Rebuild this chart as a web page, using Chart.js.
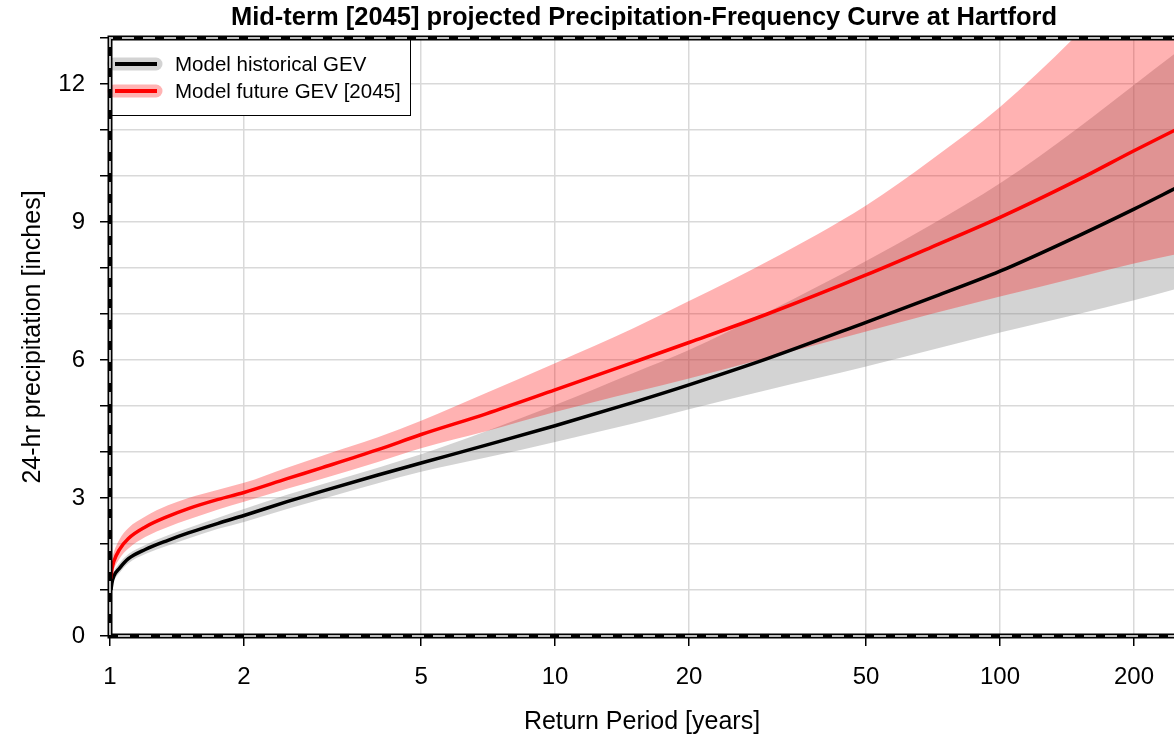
<!DOCTYPE html>
<html>
<head>
<meta charset="utf-8">
<title>Precipitation-Frequency Curve at Hartford</title>
<script src="https://cdn.jsdelivr.net/npm/chart.js@4.4.1/dist/chart.umd.min.js"></script>
<style>
  html, body { margin: 0; padding: 0; background: #fff; overflow: hidden; }
  canvas { display: block; }
</style>
</head>
<body>
<canvas id="chart" width="1174" height="742"></canvas>
<script>
// Return periods [years] along the curves
const returnPeriods = [1.005, 1.01, 1.02, 1.05, 1.1, 1.2, 1.35, 1.5, 1.75, 2, 2.5, 3, 4, 5, 7, 10, 15, 20, 30, 50, 70, 100, 150, 200, 250];

// Model historical GEV (black) with its band
const histGev   = [1.00, 1.15, 1.30, 1.47, 1.68, 1.88, 2.08, 2.24, 2.45, 2.62, 2.92, 3.15, 3.50, 3.76, 4.15, 4.57, 5.08, 5.46, 6.03, 6.82, 7.35, 7.93, 8.70, 9.28, 9.75];
const histUpper = [1.10, 1.25, 1.40, 1.58, 1.78, 1.98, 2.19, 2.35, 2.57, 2.76, 3.07, 3.30, 3.66, 3.95, 4.45, 5.02, 5.72, 6.22, 7.04, 8.15, 8.94, 9.84, 11.05, 11.98, 12.70];
const histLower = [0.95, 1.07, 1.20, 1.37, 1.58, 1.78, 1.97, 2.12, 2.33, 2.48, 2.76, 2.98, 3.32, 3.57, 3.88, 4.22, 4.62, 4.93, 5.35, 5.86, 6.22, 6.60, 7.00, 7.30, 7.55];

// Model future GEV [2045] (red) with its band
const futGev   = [1.25, 1.45, 1.62, 1.88, 2.12, 2.37, 2.60, 2.77, 2.97, 3.12, 3.42, 3.66, 4.05, 4.38, 4.83, 5.35, 5.95, 6.38, 7.00, 7.85, 8.45, 9.10, 9.92, 10.55, 11.02];
const futUpper = [1.45, 1.65, 1.82, 2.10, 2.35, 2.60, 2.84, 3.00, 3.18, 3.33, 3.66, 3.92, 4.32, 4.68, 5.28, 5.93, 6.69, 7.28, 8.14, 9.36, 10.35, 11.50, 13.10, 14.40, 15.40];
const futLower = [1.08, 1.27, 1.44, 1.68, 1.90, 2.15, 2.37, 2.53, 2.75, 2.92, 3.20, 3.42, 3.78, 4.08, 4.45, 4.87, 5.30, 5.60, 6.05, 6.62, 7.00, 7.38, 7.80, 8.10, 8.30];

// Axis ticks
const xTicks = [1, 2, 5, 10, 20, 50, 100, 200];
const yLabelEvery = 3;

const TITLE = 'Mid-term [2045] projected Precipitation-Frequency Curve at Hartford';

const FONT = '"Liberation Sans", Arial, sans-serif';
Chart.defaults.color = '#000';
Chart.defaults.font.family = FONT;

const pts = arr => returnPeriods.map((t, i) => ({ x: t, y: arr[i] }));

const GRAY_BAND = 'rgba(128,128,128,0.35)';
const RED_BAND = 'rgba(255,0,0,0.3)';

// title centred over the plot region (as R does), not the whole canvas
const titlePlugin = {
  id: 'plotTitle',
  afterDraw(chart) {
    const { ctx, chartArea: a } = chart;
    ctx.save();
    ctx.font = 'bold 25.5px ' + FONT;
    ctx.fillStyle = '#000';
    ctx.textAlign = 'center';
    ctx.textBaseline = 'middle';
    ctx.fillText(TITLE, (a.left + a.right) / 2 + 2, 18);
    ctx.restore();
  }
};

// dashed R-style frame on left, top and bottom
const framePlugin = {
  id: 'frame',
  afterDraw(chart) {
    const { ctx, chartArea: a } = chart;
    ctx.save();
    ctx.beginPath();
    ctx.moveTo(a.right + 10, a.top);
    ctx.lineTo(a.left, a.top);
    ctx.lineTo(a.left, a.bottom);
    ctx.lineTo(a.right + 10, a.bottom);
    ctx.lineWidth = 5;
    ctx.strokeStyle = '#000';
    ctx.stroke();
    ctx.setLineDash([12, 9]);
    ctx.lineWidth = 2;
    ctx.strokeStyle = '#bdbdbd';
    ctx.stroke();
    ctx.restore();
  }
};

// legend box drawn like the R one (band stroke + line)
const legendPlugin = {
  id: 'bandLegend',
  afterDatasetsDraw(chart) {
    const { ctx, chartArea: a } = chart;
    const items = [
      { label: chart.data.datasets[1].label, band: '#d3d3d3', line: '#000' },
      { label: chart.data.datasets[0].label, band: '#ffb3b3', line: '#ff0000' }
    ];
    ctx.save();
    ctx.fillStyle = '#fff';
    ctx.fillRect(a.left, a.top, 300, 77);
    ctx.strokeStyle = '#000';
    ctx.lineWidth = 1;
    ctx.strokeRect(a.left + 0.5, a.top + 0.5, 300, 77);
    items.forEach((it, i) => {
      const y = a.top + 26 + i * 27;
      ctx.lineCap = 'round';
      ctx.beginPath();
      ctx.moveTo(a.left + 4, y);
      ctx.lineTo(a.left + 46, y);
      ctx.lineWidth = 13;
      ctx.strokeStyle = it.band;
      ctx.stroke();
      ctx.lineCap = 'butt';
      ctx.beginPath();
      ctx.moveTo(a.left + 5, y);
      ctx.lineTo(a.left + 47, y);
      ctx.lineWidth = 4;
      ctx.strokeStyle = it.line;
      ctx.stroke();
      ctx.fillStyle = '#000';
      ctx.font = '20.5px ' + FONT;
      ctx.textBaseline = 'middle';
      ctx.fillText(it.label, a.left + 65, y + 1);
    });
    ctx.restore();
  }
};

const lineDefaults = { pointRadius: 0, cubicInterpolationMode: 'monotone', fill: false };

new Chart(document.getElementById('chart'), {
  type: 'line',
  data: {
    datasets: [
      { ...lineDefaults, label: 'Model future GEV [2045]', data: pts(futGev), borderColor: '#ff0000', borderWidth: 3.5, order: 0 },
      { ...lineDefaults, label: 'Model historical GEV', data: pts(histGev), borderColor: '#000', borderWidth: 3.5, order: 1 },
      { ...lineDefaults, label: 'future upper', data: pts(futUpper), borderWidth: 0, borderColor: 'transparent', backgroundColor: RED_BAND, fill: 3, order: 2 },
      { ...lineDefaults, label: 'future lower', data: pts(futLower), borderWidth: 0, borderColor: 'transparent', order: 2 },
      { ...lineDefaults, label: 'historical upper', data: pts(histUpper), borderWidth: 0, borderColor: 'transparent', backgroundColor: GRAY_BAND, fill: 5, order: 3 },
      { ...lineDefaults, label: 'historical lower', data: pts(histLower), borderWidth: 0, borderColor: 'transparent', order: 3 }
    ]
  },
  options: {
    responsive: false,
    animation: false,
    devicePixelRatio: 1,
    layout: { padding: { top: 38 } },
    plugins: {
      legend: { display: false },
      tooltip: { enabled: false },
      title: { display: false }
    },
    scales: {
      x: {
        type: 'logarithmic',
        min: 1,
        max: 246,
        afterBuildTicks: s => { s.ticks = xTicks.map(v => ({ value: v })); },
        afterFit: s => { s.height = 106; },
        ticks: { font: { size: 24 }, padding: 17, maxRotation: 0, autoSkip: false, callback: v => String(v) },
        grid: { color: '#d9d9d9', lineWidth: 1.5, tickColor: '#000', tickLength: 10 },
        border: { display: false },
        title: { display: true, text: 'Return Period [years]', font: { size: 25 }, padding: { top: 0, bottom: 5 } }
      },
      y: {
        min: 0,
        max: 13,
        afterFit: s => { s.width = 110; },
        ticks: { stepSize: 1, font: { size: 24 }, padding: 15, callback: v => (v % yLabelEvery === 0 ? String(v) : '') },
        grid: { color: '#d9d9d9', lineWidth: 1.5, tickColor: '#000', tickLength: 10 },
        border: { display: false },
        title: { display: true, text: '24-hr precipitation [inches]', font: { size: 25 }, padding: { top: 18, bottom: 0 } }
      }
    }
  },
  plugins: [legendPlugin, framePlugin, titlePlugin]
});
</script>
</body>
</html>
